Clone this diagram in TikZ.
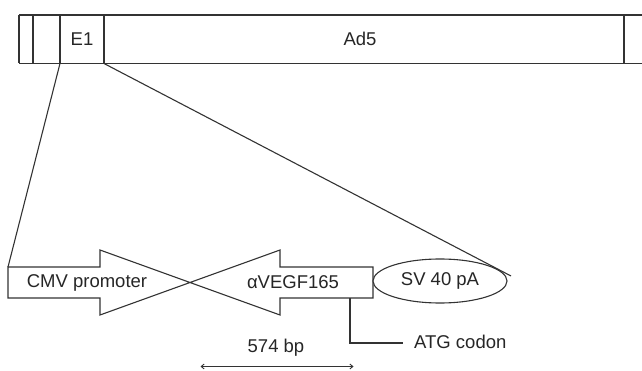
\documentclass[tikz,border=0pt]{standalone}
\usepackage{fontspec}
\setmainfont{Liberation Sans}
\usetikzlibrary{arrows.meta,shapes.geometric}
\begin{document}
\begin{tikzpicture}[x=1pt,y=-1pt,
  ln/.style={line width=1.1pt, draw=black!80},
  lbl/.style={inner sep=0pt, font=\fontsize{18.5}{22}\selectfont, text=black!85},
  part/.style={line width=1.1pt, draw=black!80, fill=white}]
\useasboundingbox (0,0) rectangle (642,371);
% top bar
\draw[ln] (19,15) -- (642,15);
\draw[ln] (19,63.5) -- (642,63.5);
\draw[ln] (19,15) -- (19,63.5);
\draw[ln] (33,15) -- (33,63.5);
\draw[ln] (60,15) -- (60,63.5);
\draw[ln] (104,15) -- (104,63.5);
\draw[ln] (624,15) -- (624,63.5);
\coordinate (e1l) at (60,63.5);
\coordinate (e1r) at (104,63.5);
\node[lbl] (e1) at (82,39) {E1};
\node[lbl] (ad5) at (360,39) {Ad5};
% cassette
\draw[part] (8,267) -- (100,267) -- (100,250) -- (190,282.5) -- (100,315) -- (100,298) -- (8,298) -- cycle;
\draw[part] (373,267) -- (280,267) -- (280,250) -- (190,282.5) -- (280,315) -- (280,298) -- (373,298) -- cycle;
\coordinate (cmvtl) at (8,267);
\coordinate (vegfb) at (350,298);
\node[lbl] (cmv) at (87,282.5) {CMV promoter};
\node[lbl] (vegf) at (293,282.5) {αVEGF165};
\node[part, ellipse, minimum width=134, minimum height=44, inner sep=0pt] (sv) at (440,281) {};
\node[lbl] at (sv.center) {SV 40 pA};
\coordinate (rend) at (511,276);
% zoom lines
\draw[ln] (e1l) -- (cmvtl);
\draw[ln] (e1r) -- (rend);
% ATG
\node[lbl, anchor=west] (atg) at (414,341.5) {ATG codon};
\coordinate (atgc) at (350,343);
\draw[ln] (vegfb) -- (atgc) -- (403,343);
% scale
\node[lbl] (bp) at (276,348) {574 bp};
\coordinate (sa) at (200.5,366.5);
\coordinate (sb) at (353.5,366.5);
\draw[ln, {Straight Barb[length=3pt,width=5pt]}-{Straight Barb[length=3pt,width=5pt]}, line width=0.9pt] (sa) -- (sb);
\end{tikzpicture}
\end{document}
